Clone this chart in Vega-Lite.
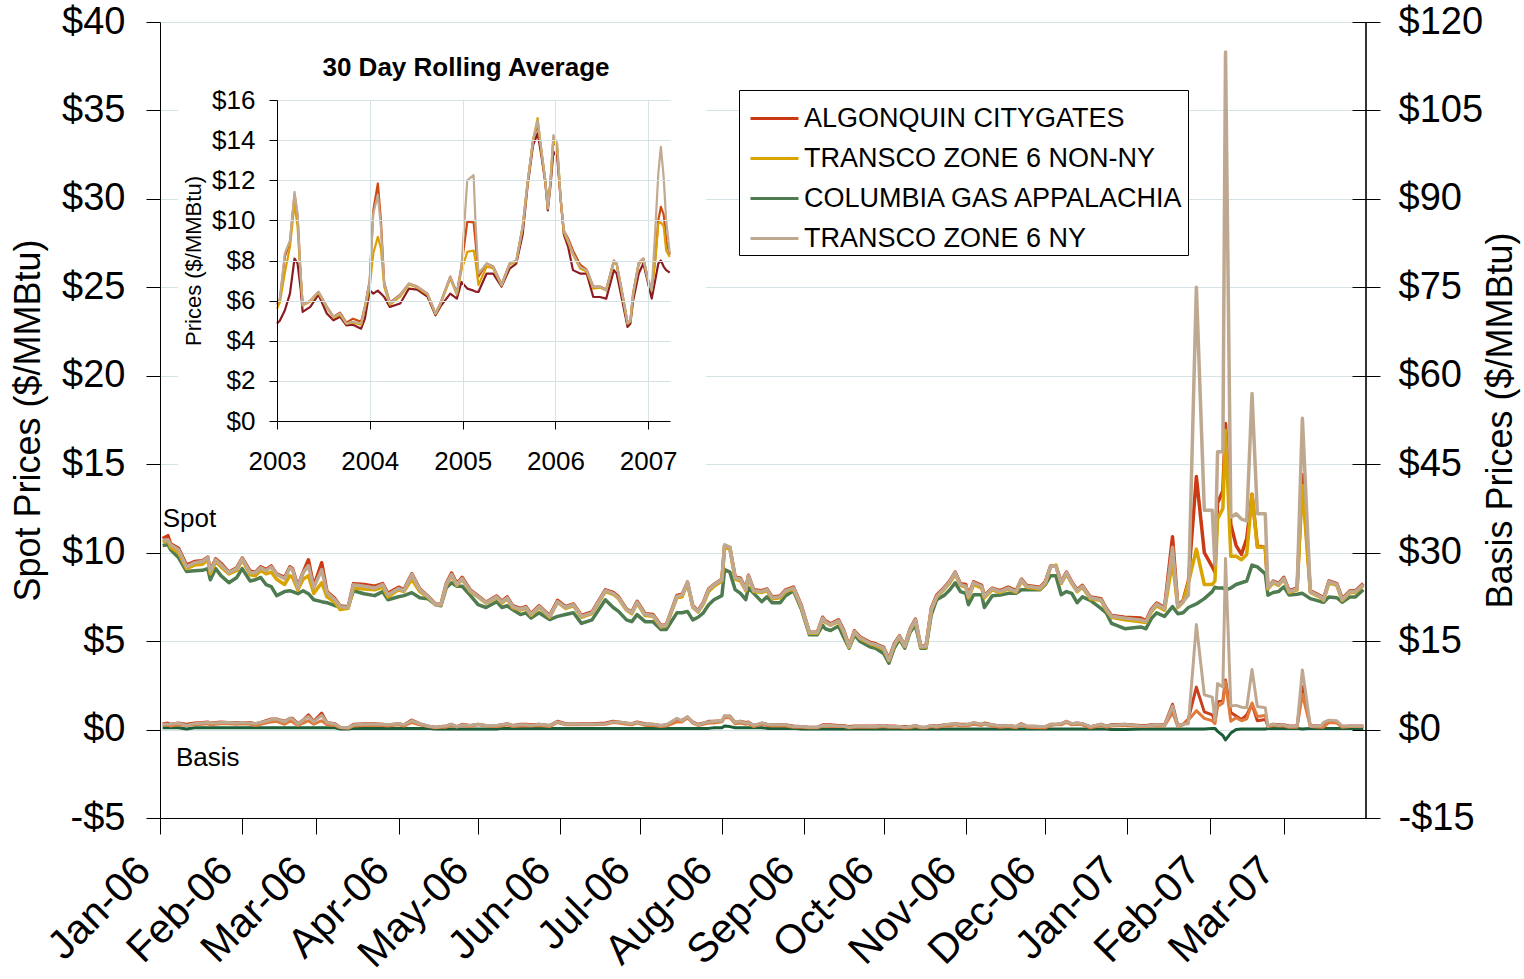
{
"$schema": "https://vega.github.io/schema/vega-lite/v6.json",
"width": 1206,
"height": 796,
"autosize": {"type": "none"},
"padding": {"left": 160, "top": 22, "right": 158, "bottom": 161},
"background": "white",
"config": {
  "view": {"stroke": null},
  "font": "Liberation Sans",
  "axis": {"labelFont": "Liberation Sans", "titleFont": "Liberation Sans", "labelColor": "black", "titleColor": "black", "domainColor": "black", "tickColor": "black", "titleFontWeight": "normal", "labelFlush": false, "labelOverlap": false}
},
"datasets": {
"main": [
{"d":"2006-01-02","a":10.8,"t":10.6,"c":10.4,"n":10.7,"ab":1.0,"tb":0.7,"cb":0.3,"nb":0.9},
{"d":"2006-01-04","a":10.96,"t":10.7,"c":10.45,"n":10.73,"ab":1.1,"tb":0.8,"cb":0.3,"nb":0.9},
{"d":"2006-01-05","a":10.5,"t":10.3,"c":10.17,"n":10.45,"ab":0.9,"tb":0.6,"cb":0.3,"nb":0.9},
{"d":"2006-01-08","a":10.25,"t":10.0,"c":9.72,"n":10.17,"ab":1.1,"tb":0.8,"cb":0.3,"nb":1.1},
{"d":"2006-01-11","a":9.3,"t":9.1,"c":8.94,"n":9.2,"ab":0.9,"tb":0.7,"cb":0.1,"nb":0.7},
{"d":"2006-01-14","a":9.5,"t":9.3,"c":8.98,"n":9.43,"ab":1.1,"tb":0.8,"cb":0.3,"nb":1.0},
{"d":"2006-01-17","a":9.55,"t":9.35,"c":9.0,"n":9.5,"ab":1.2,"tb":0.9,"cb":0.3,"nb":1.1},
{"d":"2006-01-19","a":9.75,"t":9.6,"c":9.1,"n":9.72,"ab":1.3,"tb":1.0,"cb":0.3,"nb":1.2},
{"d":"2006-01-20","a":9.0,"t":8.8,"c":8.47,"n":8.94,"ab":1.1,"tb":0.8,"cb":0.3,"nb":1.1},
{"d":"2006-01-22","a":9.65,"t":9.5,"c":9.1,"n":9.6,"ab":1.2,"tb":0.9,"cb":0.3,"nb":1.1},
{"d":"2006-01-24","a":9.4,"t":9.2,"c":8.7,"n":9.32,"ab":1.3,"tb":1.0,"cb":0.3,"nb":1.2},
{"d":"2006-01-27","a":8.9,"t":8.8,"c":8.3,"n":8.87,"ab":1.2,"tb":1.0,"cb":0.3,"nb":1.2},
{"d":"2006-01-30","a":9.15,"t":9.0,"c":8.6,"n":9.1,"ab":1.2,"tb":0.9,"cb":0.3,"nb":1.1},
{"d":"2006-02-01","a":9.7,"t":9.6,"c":9.1,"n":9.66,"ab":1.2,"tb":1.0,"cb":0.3,"nb":1.2},
{"d":"2006-02-04","a":8.95,"t":8.75,"c":8.4,"n":8.87,"ab":1.2,"tb":0.9,"cb":0.3,"nb":1.1},
{"d":"2006-02-06","a":8.9,"t":8.7,"c":8.47,"n":8.87,"ab":1.0,"tb":0.7,"cb":0.3,"nb":1.0},
{"d":"2006-02-08","a":9.2,"t":9.0,"c":8.6,"n":9.15,"ab":1.2,"tb":0.9,"cb":0.3,"nb":1.2},
{"d":"2006-02-10","a":9.05,"t":8.8,"c":8.2,"n":8.98,"ab":1.5,"tb":1.1,"cb":0.3,"nb":1.4},
{"d":"2006-02-12","a":9.25,"t":8.9,"c":8.08,"n":9.2,"ab":1.8,"tb":1.3,"cb":0.3,"nb":1.7},
{"d":"2006-02-14","a":8.8,"t":8.5,"c":7.57,"n":8.76,"ab":1.8,"tb":1.4,"cb":0.3,"nb":1.8},
{"d":"2006-02-17","a":8.6,"t":8.2,"c":7.8,"n":8.53,"ab":1.4,"tb":0.9,"cb":0.3,"nb":1.3},
{"d":"2006-02-19","a":9.2,"t":8.7,"c":7.85,"n":9.15,"ab":1.9,"tb":1.4,"cb":0.3,"nb":1.9},
{"d":"2006-02-20","a":9.1,"t":8.6,"c":7.8,"n":9.04,"ab":1.9,"tb":1.3,"cb":0.3,"nb":1.8},
{"d":"2006-02-22","a":8.1,"t":7.9,"c":7.68,"n":8.02,"ab":1.0,"tb":0.7,"cb":0.3,"nb":0.9},
{"d":"2006-02-24","a":8.9,"t":8.5,"c":7.85,"n":8.87,"ab":1.6,"tb":1.1,"cb":0.3,"nb":1.6},
{"d":"2006-02-26","a":9.6,"t":8.7,"c":7.68,"n":9.27,"ab":2.5,"tb":1.5,"cb":0.3,"nb":2.2},
{"d":"2006-02-28","a":8.1,"t":7.7,"c":7.34,"n":8.02,"ab":1.4,"tb":0.9,"cb":0.3,"nb":1.3},
{"d":"2006-03-03","a":9.43,"t":8.3,"c":7.23,"n":9.04,"ab":2.8,"tb":1.5,"cb":0.3,"nb":2.4},
{"d":"2006-03-05","a":7.8,"t":7.5,"c":7.17,"n":7.74,"ab":1.2,"tb":0.8,"cb":0.3,"nb":1.2},
{"d":"2006-03-08","a":7.4,"t":7.2,"c":7.0,"n":7.34,"ab":1.0,"tb":0.7,"cb":0.3,"nb":0.9},
{"d":"2006-03-10","a":6.98,"t":6.78,"c":6.95,"n":6.95,"ab":0.4,"tb":0.3,"cb":0.1,"nb":0.4},
{"d":"2006-03-13","a":6.92,"t":6.85,"c":6.95,"n":6.9,"ab":0.3,"tb":0.2,"cb":0.1,"nb":0.3},
{"d":"2006-03-15","a":8.25,"t":8.0,"c":7.85,"n":8.19,"ab":0.9,"tb":0.6,"cb":0.2,"nb":0.8},
{"d":"2006-03-19","a":8.2,"t":7.95,"c":7.68,"n":8.1,"ab":1.0,"tb":0.7,"cb":0.2,"nb":0.9},
{"d":"2006-03-23","a":8.1,"t":7.9,"c":7.57,"n":8.0,"ab":1.0,"tb":0.7,"cb":0.2,"nb":0.9},
{"d":"2006-03-26","a":8.25,"t":8.05,"c":7.8,"n":8.19,"ab":0.9,"tb":0.7,"cb":0.2,"nb":0.9},
{"d":"2006-03-28","a":7.7,"t":7.5,"c":7.34,"n":7.62,"ab":0.8,"tb":0.6,"cb":0.2,"nb":0.8},
{"d":"2006-04-01","a":8.05,"t":7.9,"c":7.51,"n":7.97,"ab":1.0,"tb":0.8,"cb":0.2,"nb":1.0},
{"d":"2006-04-03","a":7.9,"t":7.8,"c":7.57,"n":7.85,"ab":0.8,"tb":0.6,"cb":0.2,"nb":0.8},
{"d":"2006-04-06","a":8.8,"t":8.5,"c":7.74,"n":8.76,"ab":1.6,"tb":1.2,"cb":0.2,"nb":1.5},
{"d":"2006-04-09","a":7.95,"t":7.8,"c":7.45,"n":7.91,"ab":1.0,"tb":0.8,"cb":0.2,"nb":1.0},
{"d":"2006-04-12","a":7.55,"t":7.5,"c":7.4,"n":7.53,"ab":0.6,"tb":0.5,"cb":0.2,"nb":0.6},
{"d":"2006-04-15","a":7.08,"t":7.05,"c":7.06,"n":7.06,"ab":0.4,"tb":0.3,"cb":0.1,"nb":0.4},
{"d":"2006-04-17","a":7.08,"t":7.05,"c":7.0,"n":7.06,"ab":0.5,"tb":0.4,"cb":0.1,"nb":0.5},
{"d":"2006-04-19","a":8.25,"t":8.15,"c":8.02,"n":8.19,"ab":0.6,"tb":0.4,"cb":0.1,"nb":0.6},
{"d":"2006-04-21","a":8.85,"t":8.7,"c":8.3,"n":8.76,"ab":0.9,"tb":0.7,"cb":0.1,"nb":0.9},
{"d":"2006-04-23","a":8.25,"t":8.15,"c":8.1,"n":8.19,"ab":0.5,"tb":0.4,"cb":0.1,"nb":0.5},
{"d":"2006-04-25","a":8.6,"t":8.5,"c":8.1,"n":8.53,"ab":0.9,"tb":0.7,"cb":0.1,"nb":0.8},
{"d":"2006-04-28","a":7.9,"t":7.8,"c":7.6,"n":7.85,"ab":0.7,"tb":0.5,"cb":0.1,"nb":0.7},
{"d":"2006-05-01","a":7.55,"t":7.5,"c":7.06,"n":7.51,"ab":0.9,"tb":0.8,"cb":0.1,"nb":0.9},
{"d":"2006-05-04","a":7.2,"t":7.15,"c":6.9,"n":7.17,"ab":0.7,"tb":0.6,"cb":0.1,"nb":0.7},
{"d":"2006-05-08","a":7.55,"t":7.45,"c":7.23,"n":7.5,"ab":0.7,"tb":0.5,"cb":0.1,"nb":0.7},
{"d":"2006-05-10","a":7.25,"t":7.15,"c":6.9,"n":7.2,"ab":0.8,"tb":0.6,"cb":0.2,"nb":0.8},
{"d":"2006-05-12","a":7.5,"t":7.4,"c":7.0,"n":7.45,"ab":1.0,"tb":0.8,"cb":0.2,"nb":1.0},
{"d":"2006-05-14","a":7.0,"t":6.9,"c":6.78,"n":6.95,"ab":0.7,"tb":0.5,"cb":0.2,"nb":0.7},
{"d":"2006-05-17","a":6.85,"t":6.75,"c":6.5,"n":6.8,"ab":0.9,"tb":0.6,"cb":0.2,"nb":0.8},
{"d":"2006-05-19","a":6.95,"t":6.85,"c":6.6,"n":6.9,"ab":0.9,"tb":0.6,"cb":0.2,"nb":0.8},
{"d":"2006-05-21","a":6.55,"t":6.45,"c":6.3,"n":6.5,"ab":0.8,"tb":0.6,"cb":0.2,"nb":0.7},
{"d":"2006-05-24","a":7.0,"t":6.9,"c":6.6,"n":6.95,"ab":0.9,"tb":0.7,"cb":0.2,"nb":0.9},
{"d":"2006-05-28","a":6.45,"t":6.35,"c":6.22,"n":6.4,"ab":0.7,"tb":0.5,"cb":0.2,"nb":0.7},
{"d":"2006-05-31","a":7.3,"t":7.2,"c":6.4,"n":7.23,"ab":1.4,"tb":1.2,"cb":0.2,"nb":1.3},
{"d":"2006-06-03","a":6.95,"t":6.85,"c":6.5,"n":6.9,"ab":1.0,"tb":0.8,"cb":0.2,"nb":0.9},
{"d":"2006-06-06","a":7.1,"t":7.0,"c":6.6,"n":7.06,"ab":1.0,"tb":0.8,"cb":0.2,"nb":1.0},
{"d":"2006-06-09","a":6.45,"t":6.35,"c":6.0,"n":6.4,"ab":1.0,"tb":0.8,"cb":0.2,"nb":0.9},
{"d":"2006-06-13","a":6.65,"t":6.55,"c":6.2,"n":6.6,"ab":1.0,"tb":0.8,"cb":0.2,"nb":0.9},
{"d":"2006-06-18","a":7.9,"t":7.8,"c":7.34,"n":7.85,"ab":1.1,"tb":0.9,"cb":0.2,"nb":1.0},
{"d":"2006-06-21","a":7.75,"t":7.65,"c":6.9,"n":7.7,"ab":1.4,"tb":1.2,"cb":0.2,"nb":1.3},
{"d":"2006-06-23","a":7.5,"t":7.4,"c":6.68,"n":7.45,"ab":1.3,"tb":1.1,"cb":0.2,"nb":1.3},
{"d":"2006-06-26","a":6.82,"t":6.75,"c":6.2,"n":6.78,"ab":1.1,"tb":0.9,"cb":0.2,"nb":1.1},
{"d":"2006-06-28","a":6.65,"t":6.55,"c":6.1,"n":6.6,"ab":1.0,"tb":0.8,"cb":0.2,"nb":1.0},
{"d":"2006-06-30","a":7.25,"t":7.15,"c":6.5,"n":7.2,"ab":1.3,"tb":1.1,"cb":0.2,"nb":1.2},
{"d":"2006-07-03","a":6.55,"t":6.45,"c":6.1,"n":6.5,"ab":1.0,"tb":0.7,"cb":0.2,"nb":0.9},
{"d":"2006-07-06","a":6.5,"t":6.4,"c":6.1,"n":6.45,"ab":0.9,"tb":0.7,"cb":0.2,"nb":0.9},
{"d":"2006-07-09","a":5.88,"t":5.8,"c":5.65,"n":5.84,"ab":0.7,"tb":0.5,"cb":0.2,"nb":0.7},
{"d":"2006-07-11","a":5.92,"t":5.88,"c":5.65,"n":5.9,"ab":0.8,"tb":0.6,"cb":0.2,"nb":0.8},
{"d":"2006-07-15","a":7.58,"t":7.45,"c":6.6,"n":7.52,"ab":1.5,"tb":1.3,"cb":0.2,"nb":1.9},
{"d":"2006-07-17","a":7.65,"t":7.5,"c":6.6,"n":7.6,"ab":1.6,"tb":1.3,"cb":0.2,"nb":1.5},
{"d":"2006-07-19","a":8.3,"t":8.3,"c":6.68,"n":8.36,"ab":2.1,"tb":2.0,"cb":0.2,"nb":2.2},
{"d":"2006-07-21","a":7.0,"t":6.9,"c":6.2,"n":6.95,"ab":1.3,"tb":1.1,"cb":0.2,"nb":1.2},
{"d":"2006-07-23","a":6.72,"t":6.65,"c":6.35,"n":6.68,"ab":0.9,"tb":0.7,"cb":0.2,"nb":0.8},
{"d":"2006-07-25","a":7.2,"t":7.1,"c":6.6,"n":7.17,"ab":1.1,"tb":0.9,"cb":0.2,"nb":1.1},
{"d":"2006-07-27","a":7.95,"t":7.8,"c":7.06,"n":7.91,"ab":1.4,"tb":1.1,"cb":0.2,"nb":1.3},
{"d":"2006-07-29","a":8.2,"t":8.1,"c":7.34,"n":8.19,"ab":1.4,"tb":1.1,"cb":0.3,"nb":1.4},
{"d":"2006-08-01","a":8.5,"t":8.4,"c":7.57,"n":8.47,"ab":1.5,"tb":1.3,"cb":0.3,"nb":1.5},
{"d":"2006-08-02","a":10.4,"t":10.3,"c":9.04,"n":10.45,"ab":2.2,"tb":2.0,"cb":0.6,"nb":2.4},
{"d":"2006-08-04","a":10.3,"t":10.2,"c":8.9,"n":10.3,"ab":2.3,"tb":2.0,"cb":0.5,"nb":2.2},
{"d":"2006-08-06","a":8.62,"t":8.5,"c":7.91,"n":8.58,"ab":1.2,"tb":1.0,"cb":0.3,"nb":1.2},
{"d":"2006-08-08","a":8.55,"t":8.4,"c":7.7,"n":8.5,"ab":1.4,"tb":1.1,"cb":0.3,"nb":1.4},
{"d":"2006-08-10","a":7.95,"t":7.85,"c":7.34,"n":7.91,"ab":1.2,"tb":0.9,"cb":0.3,"nb":1.1},
{"d":"2006-08-11","a":8.72,"t":8.6,"c":8.02,"n":8.7,"ab":1.3,"tb":1.0,"cb":0.3,"nb":1.2},
{"d":"2006-08-13","a":7.9,"t":7.8,"c":7.7,"n":7.85,"ab":0.7,"tb":0.5,"cb":0.3,"nb":0.7},
{"d":"2006-08-16","a":7.85,"t":7.75,"c":7.23,"n":7.8,"ab":1.1,"tb":0.9,"cb":0.3,"nb":1.1},
{"d":"2006-08-18","a":7.95,"t":7.85,"c":7.5,"n":7.91,"ab":0.9,"tb":0.7,"cb":0.2,"nb":0.9},
{"d":"2006-08-20","a":7.5,"t":7.4,"c":7.17,"n":7.45,"ab":0.8,"tb":0.6,"cb":0.2,"nb":0.8},
{"d":"2006-08-23","a":7.55,"t":7.45,"c":7.17,"n":7.51,"ab":0.8,"tb":0.6,"cb":0.2,"nb":0.8},
{"d":"2006-08-25","a":7.9,"t":7.8,"c":7.57,"n":7.85,"ab":0.8,"tb":0.6,"cb":0.2,"nb":0.8},
{"d":"2006-08-28","a":8.05,"t":7.95,"c":7.85,"n":8.0,"ab":0.6,"tb":0.4,"cb":0.2,"nb":0.5},
{"d":"2006-08-31","a":7.0,"t":6.9,"c":6.8,"n":6.95,"ab":0.5,"tb":0.4,"cb":0.1,"nb":0.5},
{"d":"2006-09-03","a":5.5,"t":5.45,"c":5.36,"n":5.48,"ab":0.4,"tb":0.3,"cb":0.1,"nb":0.4},
{"d":"2006-09-06","a":5.5,"t":5.45,"c":5.36,"n":5.48,"ab":0.4,"tb":0.3,"cb":0.1,"nb":0.4},
{"d":"2006-09-08","a":6.35,"t":6.25,"c":5.9,"n":6.3,"ab":0.8,"tb":0.6,"cb":0.1,"nb":0.7},
{"d":"2006-09-09","a":6.15,"t":6.05,"c":5.7,"n":6.1,"ab":0.8,"tb":0.6,"cb":0.1,"nb":0.7},
{"d":"2006-09-11","a":5.98,"t":5.9,"c":5.6,"n":5.93,"ab":0.8,"tb":0.5,"cb":0.1,"nb":0.7},
{"d":"2006-09-14","a":6.2,"t":6.1,"c":5.85,"n":6.15,"ab":0.7,"tb":0.5,"cb":0.1,"nb":0.6},
{"d":"2006-09-16","a":5.6,"t":5.5,"c":5.2,"n":5.53,"ab":0.7,"tb":0.5,"cb":0.1,"nb":0.6},
{"d":"2006-09-18","a":4.72,"t":4.65,"c":4.6,"n":4.69,"ab":0.5,"tb":0.3,"cb":0.1,"nb":0.4},
{"d":"2006-09-20","a":5.58,"t":5.5,"c":5.36,"n":5.53,"ab":0.6,"tb":0.4,"cb":0.1,"nb":0.5},
{"d":"2006-09-22","a":5.25,"t":5.15,"c":5.0,"n":5.2,"ab":0.6,"tb":0.4,"cb":0.1,"nb":0.6},
{"d":"2006-09-26","a":4.92,"t":4.85,"c":4.67,"n":4.87,"ab":0.6,"tb":0.4,"cb":0.1,"nb":0.5},
{"d":"2006-09-28","a":4.85,"t":4.75,"c":4.6,"n":4.8,"ab":0.6,"tb":0.4,"cb":0.1,"nb":0.5},
{"d":"2006-10-01","a":4.65,"t":4.55,"c":4.3,"n":4.6,"ab":0.7,"tb":0.5,"cb":0.1,"nb":0.7},
{"d":"2006-10-03","a":3.98,"t":3.9,"c":3.75,"n":3.92,"ab":0.6,"tb":0.4,"cb":0.1,"nb":0.5},
{"d":"2006-10-05","a":4.85,"t":4.75,"c":4.6,"n":4.8,"ab":0.6,"tb":0.4,"cb":0.1,"nb":0.5},
{"d":"2006-10-07","a":5.3,"t":5.25,"c":5.1,"n":5.27,"ab":0.5,"tb":0.4,"cb":0.1,"nb":0.5},
{"d":"2006-10-09","a":4.75,"t":4.7,"c":4.6,"n":4.7,"ab":0.5,"tb":0.3,"cb":0.1,"nb":0.4},
{"d":"2006-10-11","a":5.7,"t":5.6,"c":5.5,"n":5.65,"ab":0.5,"tb":0.3,"cb":0.1,"nb":0.5},
{"d":"2006-10-13","a":6.25,"t":6.15,"c":5.9,"n":6.2,"ab":0.7,"tb":0.5,"cb":0.1,"nb":0.7},
{"d":"2006-10-15","a":4.72,"t":4.67,"c":4.6,"n":4.69,"ab":0.4,"tb":0.3,"cb":0.1,"nb":0.4},
{"d":"2006-10-17","a":4.72,"t":4.67,"c":4.6,"n":4.69,"ab":0.4,"tb":0.3,"cb":0.1,"nb":0.4},
{"d":"2006-10-19","a":6.85,"t":6.75,"c":6.5,"n":6.78,"ab":0.7,"tb":0.5,"cb":0.1,"nb":0.7},
{"d":"2006-10-21","a":7.6,"t":7.5,"c":7.34,"n":7.52,"ab":0.6,"tb":0.4,"cb":0.1,"nb":0.5},
{"d":"2006-10-24","a":8.05,"t":7.95,"c":7.6,"n":8.0,"ab":0.8,"tb":0.6,"cb":0.1,"nb":0.8},
{"d":"2006-10-26","a":8.4,"t":8.3,"c":7.9,"n":8.36,"ab":0.9,"tb":0.6,"cb":0.1,"nb":0.9},
{"d":"2006-10-28","a":8.9,"t":8.8,"c":8.3,"n":8.87,"ab":1.0,"tb":0.8,"cb":0.1,"nb":1.0},
{"d":"2006-10-30","a":8.25,"t":8.15,"c":7.8,"n":8.19,"ab":0.9,"tb":0.6,"cb":0.1,"nb":0.8},
{"d":"2006-11-01","a":8.2,"t":8.05,"c":7.7,"n":8.1,"ab":0.9,"tb":0.6,"cb":0.1,"nb":0.8},
{"d":"2006-11-02","a":7.6,"t":7.45,"c":7.06,"n":7.52,"ab":0.9,"tb":0.7,"cb":0.1,"nb":0.9},
{"d":"2006-11-04","a":8.35,"t":8.2,"c":7.62,"n":8.3,"ab":1.1,"tb":0.9,"cb":0.1,"nb":1.2},
{"d":"2006-11-07","a":8.15,"t":8.0,"c":7.62,"n":8.1,"ab":0.9,"tb":0.7,"cb":0.1,"nb":0.9},
{"d":"2006-11-08","a":7.58,"t":7.45,"c":6.9,"n":7.52,"ab":1.1,"tb":0.9,"cb":0.1,"nb":1.0},
{"d":"2006-11-11","a":8.0,"t":7.9,"c":7.57,"n":7.97,"ab":0.8,"tb":0.6,"cb":0.1,"nb":0.8},
{"d":"2006-11-14","a":7.85,"t":7.75,"c":7.6,"n":7.8,"ab":0.6,"tb":0.4,"cb":0.1,"nb":0.6},
{"d":"2006-11-17","a":8.05,"t":7.95,"c":7.7,"n":8.0,"ab":0.7,"tb":0.5,"cb":0.1,"nb":0.7},
{"d":"2006-11-20","a":7.85,"t":7.75,"c":7.7,"n":7.8,"ab":0.5,"tb":0.3,"cb":0.1,"nb":0.5},
{"d":"2006-11-22","a":8.5,"t":8.4,"c":7.9,"n":8.47,"ab":1.0,"tb":0.8,"cb":0.1,"nb":0.9},
{"d":"2006-11-24","a":8.15,"t":8.05,"c":7.9,"n":8.1,"ab":0.6,"tb":0.4,"cb":0.1,"nb":0.6},
{"d":"2006-11-29","a":8.05,"t":7.95,"c":7.9,"n":8.0,"ab":0.5,"tb":0.3,"cb":0.1,"nb":0.5},
{"d":"2006-12-01","a":8.35,"t":8.25,"c":8.2,"n":8.3,"ab":0.5,"tb":0.3,"cb":0.1,"nb":0.5},
{"d":"2006-12-03","a":9.25,"t":9.2,"c":8.7,"n":9.23,"ab":0.9,"tb":0.7,"cb":0.1,"nb":0.9},
{"d":"2006-12-05","a":9.25,"t":9.3,"c":8.7,"n":9.23,"ab":0.9,"tb":0.8,"cb":0.1,"nb":0.9},
{"d":"2006-12-07","a":8.35,"t":8.25,"c":7.62,"n":8.3,"ab":1.0,"tb":0.8,"cb":0.1,"nb":1.0},
{"d":"2006-12-09","a":8.9,"t":8.8,"c":7.8,"n":8.87,"ab":1.4,"tb":1.2,"cb":0.1,"nb":1.4},
{"d":"2006-12-11","a":8.35,"t":8.25,"c":7.7,"n":8.3,"ab":1.0,"tb":0.8,"cb":0.1,"nb":1.0},
{"d":"2006-12-13","a":7.9,"t":7.8,"c":7.17,"n":7.85,"ab":1.1,"tb":0.9,"cb":0.1,"nb":1.1},
{"d":"2006-12-15","a":8.15,"t":8.05,"c":7.5,"n":8.1,"ab":1.0,"tb":0.8,"cb":0.1,"nb":1.0},
{"d":"2006-12-18","a":7.5,"t":7.4,"c":7.3,"n":7.45,"ab":0.5,"tb":0.3,"cb":0.1,"nb":0.5},
{"d":"2006-12-22","a":7.4,"t":7.3,"c":6.85,"n":7.34,"ab":0.9,"tb":0.7,"cb":0.1,"nb":0.9},
{"d":"2006-12-24","a":6.85,"t":6.75,"c":6.6,"n":6.8,"ab":0.6,"tb":0.4,"cb":0.1,"nb":0.6},
{"d":"2006-12-26","a":6.45,"t":6.35,"c":6.0,"n":6.4,"ab":0.8,"tb":0.6,"cb":0.0,"nb":0.7},
{"d":"2006-12-31","a":6.35,"t":6.2,"c":5.7,"n":6.3,"ab":0.9,"tb":0.7,"cb":0.0,"nb":0.9},
{"d":"2007-01-06","a":6.3,"t":6.1,"c":5.8,"n":6.2,"ab":0.7,"tb":0.5,"cb":0.1,"nb":0.6},
{"d":"2007-01-08","a":6.15,"t":6.05,"c":5.7,"n":6.1,"ab":0.7,"tb":0.5,"cb":0.1,"nb":0.6},
{"d":"2007-01-10","a":6.8,"t":6.65,"c":6.27,"n":6.72,"ab":0.8,"tb":0.6,"cb":0.1,"nb":0.7},
{"d":"2007-01-12","a":7.15,"t":7.0,"c":6.6,"n":7.1,"ab":0.8,"tb":0.6,"cb":0.1,"nb":0.8},
{"d":"2007-01-15","a":6.9,"t":6.75,"c":6.4,"n":6.83,"ab":0.8,"tb":0.6,"cb":0.1,"nb":0.7},
{"d":"2007-01-18","a":10.9,"t":9.5,"c":6.95,"n":10.3,"ab":4.3,"tb":2.9,"cb":0.1,"nb":4.0},
{"d":"2007-01-20","a":7.0,"t":6.9,"c":6.55,"n":6.95,"ab":0.7,"tb":0.5,"cb":0.1,"nb":0.6},
{"d":"2007-01-22","a":7.3,"t":7.2,"c":6.6,"n":7.23,"ab":0.9,"tb":0.8,"cb":0.1,"nb":0.9},
{"d":"2007-01-24","a":8.4,"t":8.3,"c":6.9,"n":7.6,"ab":1.8,"tb":1.6,"cb":0.1,"nb":1.0},
{"d":"2007-01-27","a":14.3,"t":10.2,"c":7.1,"n":25.0,"ab":7.2,"tb":3.2,"cb":0.1,"nb":17.8},
{"d":"2007-01-30","a":10.0,"t":8.2,"c":7.4,"n":12.4,"ab":3.0,"tb":1.9,"cb":0.1,"nb":5.9},
{"d":"2007-02-02","a":9.2,"t":8.2,"c":7.8,"n":12.4,"ab":2.5,"tb":1.5,"cb":0.2,"nb":5.5},
{"d":"2007-02-03","a":8.9,"t":8.4,"c":8.05,"n":9.3,"ab":1.4,"tb":1.0,"cb":0.2,"nb":1.6},
{"d":"2007-02-04","a":12.8,"t":11.9,"c":8.0,"n":15.7,"ab":4.7,"tb":3.9,"cb":-0.3,"nb":7.8},
{"d":"2007-02-06","a":13.5,"t":12.5,"c":8.0,"n":15.7,"ab":5.0,"tb":4.5,"cb":-1.0,"nb":7.2},
{"d":"2007-02-07","a":17.3,"t":16.9,"c":7.9,"n":38.3,"ab":8.4,"tb":8.1,"cb":-1.75,"nb":29.0},
{"d":"2007-02-09","a":11.6,"t":9.8,"c":8.0,"n":12.0,"ab":2.9,"tb":1.4,"cb":-0.6,"nb":4.0},
{"d":"2007-02-11","a":10.4,"t":9.8,"c":8.2,"n":12.2,"ab":2.3,"tb":2.0,"cb":0.0,"nb":4.1},
{"d":"2007-02-13","a":9.9,"t":9.6,"c":8.3,"n":11.9,"ab":1.7,"tb":1.5,"cb":0.1,"nb":3.8},
{"d":"2007-02-15","a":10.8,"t":9.9,"c":8.4,"n":11.8,"ab":2.5,"tb":1.8,"cb":0.1,"nb":3.7},
{"d":"2007-02-17","a":13.3,"t":13.3,"c":9.3,"n":19.0,"ab":4.3,"tb":4.5,"cb":0.1,"nb":10.2},
{"d":"2007-02-19","a":10.4,"t":10.3,"c":9.2,"n":12.2,"ab":1.5,"tb":2.2,"cb":0.1,"nb":3.9},
{"d":"2007-02-22","a":10.3,"t":10.3,"c":8.8,"n":12.2,"ab":1.7,"tb":2.4,"cb":0.1,"nb":3.7},
{"d":"2007-02-23","a":8.0,"t":7.95,"c":7.6,"n":8.0,"ab":0.6,"tb":0.5,"cb":0.2,"nb":0.6},
{"d":"2007-02-25","a":8.4,"t":8.3,"c":7.75,"n":8.36,"ab":0.9,"tb":0.7,"cb":0.2,"nb":0.9},
{"d":"2007-02-27","a":8.25,"t":8.15,"c":7.8,"n":8.2,"ab":0.8,"tb":0.6,"cb":0.2,"nb":0.7},
{"d":"2007-03-01","a":8.6,"t":8.5,"c":8.07,"n":8.55,"ab":0.8,"tb":0.6,"cb":0.2,"nb":0.8},
{"d":"2007-03-03","a":7.85,"t":7.75,"c":7.6,"n":7.8,"ab":0.6,"tb":0.4,"cb":0.2,"nb":0.5},
{"d":"2007-03-06","a":8.0,"t":7.9,"c":7.65,"n":7.95,"ab":0.6,"tb":0.4,"cb":0.2,"nb":0.6},
{"d":"2007-03-08","a":14.4,"t":13.8,"c":7.7,"n":17.6,"ab":7.3,"tb":6.0,"cb":0.1,"nb":10.1},
{"d":"2007-03-11","a":7.85,"t":7.75,"c":7.4,"n":7.8,"ab":0.7,"tb":0.5,"cb":0.2,"nb":0.6},
{"d":"2007-03-15","a":7.55,"t":7.45,"c":7.23,"n":7.5,"ab":0.6,"tb":0.4,"cb":0.2,"nb":0.6},
{"d":"2007-03-16","a":7.4,"t":7.3,"c":7.2,"n":7.34,"ab":0.5,"tb":0.4,"cb":0.2,"nb":1.2},
{"d":"2007-03-18","a":8.4,"t":8.3,"c":7.5,"n":8.36,"ab":1.4,"tb":1.2,"cb":0.2,"nb":1.6},
{"d":"2007-03-21","a":8.25,"t":8.15,"c":7.45,"n":8.2,"ab":1.3,"tb":1.1,"cb":0.2,"nb":1.5},
{"d":"2007-03-23","a":7.4,"t":7.3,"c":7.2,"n":7.34,"ab":0.5,"tb":0.4,"cb":0.2,"nb":0.6},
{"d":"2007-03-26","a":7.85,"t":7.75,"c":7.5,"n":7.8,"ab":0.6,"tb":0.5,"cb":0.2,"nb":0.6},
{"d":"2007-03-28","a":7.85,"t":7.75,"c":7.5,"n":7.8,"ab":0.6,"tb":0.5,"cb":0.2,"nb":0.6},
{"d":"2007-03-31","a":8.25,"t":8.15,"c":7.9,"n":8.2,"ab":0.6,"tb":0.5,"cb":0.2,"nb":0.6}
],
"inset": [
{"d":"2003-01-01","a":5.8,"t":5.6,"c":4.86,"n":5.9},
{"d":"2003-01-12","a":6.0,"t":5.9,"c":5.0,"n":6.1},
{"d":"2003-02-01","a":8.2,"t":7.4,"c":5.52,"n":8.35},
{"d":"2003-02-21","a":8.9,"t":8.68,"c":6.35,"n":9.0},
{"d":"2003-03-11","a":11.3,"t":10.84,"c":8.1,"n":11.42},
{"d":"2003-03-23","a":10.2,"t":9.68,"c":7.85,"n":10.34},
{"d":"2003-04-04","a":7.3,"t":7.2,"c":6.6,"n":7.36},
{"d":"2003-04-12","a":5.8,"t":5.75,"c":5.44,"n":5.77},
{"d":"2003-05-12","a":6.0,"t":5.95,"c":5.69,"n":6.0},
{"d":"2003-06-13","a":6.44,"t":6.4,"c":6.3,"n":6.44},
{"d":"2003-07-16","a":5.7,"t":5.65,"c":5.36,"n":5.69},
{"d":"2003-08-11","a":5.2,"t":5.15,"c":5.02,"n":5.19},
{"d":"2003-09-06","a":5.4,"t":5.3,"c":5.2,"n":5.36},
{"d":"2003-10-01","a":4.9,"t":4.85,"c":4.77,"n":4.86},
{"d":"2003-10-27","a":5.1,"t":4.9,"c":4.8,"n":4.94},
{"d":"2003-11-28","a":4.95,"t":4.8,"c":4.6,"n":4.86},
{"d":"2003-12-13","a":5.7,"t":5.6,"c":5.1,"n":5.69},
{"d":"2004-01-01","a":7.0,"t":6.69,"c":6.52,"n":7.0},
{"d":"2004-01-15","a":10.5,"t":8.35,"c":6.35,"n":10.34},
{"d":"2004-02-02","a":11.84,"t":9.18,"c":6.5,"n":11.26},
{"d":"2004-02-14","a":10.0,"t":8.6,"c":6.35,"n":9.68},
{"d":"2004-02-27","a":6.9,"t":6.7,"c":6.18,"n":6.85},
{"d":"2004-03-20","a":5.9,"t":5.8,"c":5.69,"n":5.86},
{"d":"2004-04-30","a":6.3,"t":6.2,"c":5.86,"n":6.27},
{"d":"2004-06-03","a":6.85,"t":6.8,"c":6.6,"n":6.85},
{"d":"2004-07-06","a":6.7,"t":6.65,"c":6.55,"n":6.69},
{"d":"2004-08-15","a":6.35,"t":6.3,"c":6.2,"n":6.35},
{"d":"2004-09-16","a":5.36,"t":5.33,"c":5.27,"n":5.36},
{"d":"2004-10-05","a":5.86,"t":5.8,"c":5.7,"n":5.86},
{"d":"2004-11-13","a":7.2,"t":7.1,"c":6.35,"n":7.18},
{"d":"2004-12-09","a":6.4,"t":6.3,"c":6.1,"n":6.35},
{"d":"2004-12-27","a":7.7,"t":7.5,"c":6.93,"n":7.68},
{"d":"2005-01-19","a":9.93,"t":8.43,"c":6.6,"n":12.0},
{"d":"2005-02-13","a":9.9,"t":8.5,"c":6.5,"n":12.25},
{"d":"2005-02-20","a":9.0,"t":8.0,"c":6.45,"n":10.0},
{"d":"2005-03-04","a":7.2,"t":6.77,"c":6.43,"n":7.35},
{"d":"2005-04-05","a":7.85,"t":7.7,"c":7.35,"n":7.85},
{"d":"2005-05-01","a":7.7,"t":7.6,"c":7.35,"n":7.68},
{"d":"2005-06-03","a":6.8,"t":6.75,"c":6.7,"n":6.77},
{"d":"2005-07-05","a":7.85,"t":7.8,"c":7.6,"n":7.85},
{"d":"2005-07-31","a":8.0,"t":7.95,"c":7.85,"n":8.0},
{"d":"2005-08-25","a":9.7,"t":9.6,"c":9.3,"n":9.68},
{"d":"2005-09-13","a":11.84,"t":11.8,"c":11.67,"n":11.84},
{"d":"2005-10-05","a":14.0,"t":14.0,"c":13.75,"n":14.0},
{"d":"2005-10-23","a":14.8,"t":15.1,"c":14.34,"n":15.0},
{"d":"2005-11-07","a":13.4,"t":13.4,"c":13.2,"n":13.5},
{"d":"2005-11-22","a":12.0,"t":12.0,"c":11.9,"n":12.0},
{"d":"2005-12-02","a":10.6,"t":10.6,"c":10.5,"n":10.6},
{"d":"2005-12-13","a":12.0,"t":12.0,"c":11.8,"n":12.0},
{"d":"2005-12-24","a":14.1,"t":14.1,"c":13.42,"n":14.25},
{"d":"2006-01-08","a":13.5,"t":13.6,"c":13.17,"n":13.83},
{"d":"2006-01-22","a":11.0,"t":11.0,"c":11.0,"n":11.0},
{"d":"2006-02-03","a":9.5,"t":9.4,"c":9.3,"n":9.51},
{"d":"2006-02-20","a":9.1,"t":8.9,"c":8.68,"n":9.0},
{"d":"2006-03-11","a":8.5,"t":8.3,"c":7.52,"n":8.35},
{"d":"2006-04-08","a":7.8,"t":7.6,"c":7.35,"n":7.68},
{"d":"2006-05-04","a":7.55,"t":7.45,"c":7.35,"n":7.52},
{"d":"2006-05-30","a":6.7,"t":6.6,"c":6.18,"n":6.69},
{"d":"2006-06-25","a":6.7,"t":6.65,"c":6.18,"n":6.69},
{"d":"2006-07-20","a":6.55,"t":6.5,"c":6.1,"n":6.52},
{"d":"2006-08-19","a":8.0,"t":7.9,"c":7.52,"n":8.0},
{"d":"2006-08-30","a":7.85,"t":7.8,"c":7.35,"n":7.85},
{"d":"2006-09-21","a":6.4,"t":6.3,"c":6.0,"n":6.35},
{"d":"2006-10-12","a":4.9,"t":4.85,"c":4.69,"n":4.86},
{"d":"2006-10-23","a":5.0,"t":4.95,"c":4.86,"n":5.0},
{"d":"2006-11-03","a":6.4,"t":6.3,"c":6.0,"n":6.35},
{"d":"2006-11-25","a":7.9,"t":7.8,"c":7.35,"n":7.85},
{"d":"2006-12-13","a":8.1,"t":8.05,"c":7.85,"n":8.1},
{"d":"2007-01-01","a":7.05,"t":6.95,"c":6.85,"n":7.02},
{"d":"2007-01-15","a":6.55,"t":6.5,"c":6.1,"n":6.52},
{"d":"2007-01-29","a":8.1,"t":8.0,"c":7.02,"n":9.51},
{"d":"2007-02-10","a":10.0,"t":9.85,"c":7.85,"n":12.34},
{"d":"2007-02-20","a":10.67,"t":9.9,"c":8.0,"n":13.67},
{"d":"2007-03-03","a":10.3,"t":9.7,"c":7.7,"n":12.17},
{"d":"2007-03-13","a":9.0,"t":8.5,"c":7.52,"n":10.0},
{"d":"2007-03-27","a":8.3,"t":8.18,"c":7.4,"n":8.35}
]
},
"layer": [
{
  "layer": [
    {
      "data": {"name": "main"},
      "transform": [{"fold": ["c", "a", "t", "n"], "as": ["k", "v"]}],
      "mark": {"type": "line", "strokeWidth": 3.5, "strokeJoin": "round"},
      "encoding": {
        "x": {"field": "d", "type": "temporal",
          "scale": {"type": "utc", "domain": [{"year": 2006, "month": 1, "date": 1, "utc": true}, {"year": 2007, "month": 4, "date": 1, "utc": true}]},
          "axis": {"values": [
            {"year": 2006, "month": 1, "date": 1, "utc": true}, {"year": 2006, "month": 2, "date": 1, "utc": true}, {"year": 2006, "month": 3, "date": 1, "utc": true},
            {"year": 2006, "month": 4, "date": 1, "utc": true}, {"year": 2006, "month": 5, "date": 1, "utc": true}, {"year": 2006, "month": 6, "date": 1, "utc": true},
            {"year": 2006, "month": 7, "date": 1, "utc": true}, {"year": 2006, "month": 8, "date": 1, "utc": true}, {"year": 2006, "month": 9, "date": 1, "utc": true},
            {"year": 2006, "month": 10, "date": 1, "utc": true}, {"year": 2006, "month": 11, "date": 1, "utc": true}, {"year": 2006, "month": 12, "date": 1, "utc": true},
            {"year": 2007, "month": 1, "date": 1, "utc": true}, {"year": 2007, "month": 2, "date": 1, "utc": true}, {"year": 2007, "month": 3, "date": 1, "utc": true}],
            "format": "%b-%y", "labelAngle": -45, "labelAlign": "right", "labelBaseline": "middle", "labelFontSize": 41, "tickSize": 16, "labelPadding": 30, "labelOffset": -16, "title": null, "grid": false, "orient": "bottom"}},
        "y": {"field": "v", "type": "quantitative", "scale": {"domain": [-5, 40]},
          "axis": {"orient": "left", "values": [-5, 0, 5, 10, 15, 20, 25, 30, 35, 40], "labelExpr": "datum.value < 0 ? '-$' + abs(datum.value) : '$' + datum.value", "labelFontSize": 38, "tickSize": 14, "labelPadding": 21, "grid": true, "gridColor": "#D5E3E7", "title": "Spot Prices ($/MMBtu)", "titleFontSize": 36, "titleAngle": -90, "titleX": -132, "titleBaseline": "middle"}},
        "color": {"field": "k", "type": "nominal",
          "scale": {"domain": ["a", "t", "c", "n"], "range": ["#CC3A14", "#D9A400", "#4E7B4F", "#BFA890"]},
          "legend": {"orient": "none", "legendX": 579, "legendY": 68, "direction": "vertical", "title": null, "strokeColor": "black", "fillColor": "white", "padding": 3, "rowPadding": 1, "labelFontSize": 27, "labelFont": "Liberation Sans", "labelLimit": 600, "symbolType": "stroke", "symbolSize": 2304, "symbolStrokeWidth": 3, "symbolOffset": 7, "labelOffset": 4,
            "labelExpr": "datum.label == 'a' ? 'ALGONQUIN CITYGATES' : datum.label == 't' ? 'TRANSCO ZONE 6 NON-NY' : datum.label == 'c' ? 'COLUMBIA GAS APPALACHIA' : 'TRANSCO ZONE 6 NY'"}}
      }
    },
    {
      "data": {"values": [{"d": "2006-01-02", "v": 11.9, "label": "Spot"}, {"d": "2006-01-07", "v": -1.6, "label": "Basis"}]},
      "mark": {"type": "text", "align": "left", "baseline": "middle", "fontSize": 26, "font": "Liberation Sans", "color": "black"},
      "encoding": {
        "x": {"field": "d", "type": "temporal", "scale": {"type": "utc", "domain": [{"year": 2006, "month": 1, "date": 1, "utc": true}, {"year": 2007, "month": 4, "date": 1, "utc": true}]}},
        "y": {"field": "v", "type": "quantitative", "scale": {"domain": [-5, 40]}},
        "text": {"field": "label"}
      }
    }
  ]
},
{
  "layer": [
    {
      "data": {"name": "main"},
      "transform": [{"fold": ["cb", "ab", "tb", "nb"], "as": ["k", "v"]}],
      "mark": {"type": "line", "strokeWidth": 3, "strokeJoin": "round"},
      "encoding": {
        "x": {"field": "d", "type": "temporal", "scale": {"type": "utc", "domain": [{"year": 2006, "month": 1, "date": 1, "utc": true}, {"year": 2007, "month": 4, "date": 1, "utc": true}]}, "axis": null},
        "y": {"field": "v", "type": "quantitative", "scale": {"domain": [-15, 120]},
          "axis": {"orient": "right", "values": [-15, 0, 15, 30, 45, 60, 75, 90, 105, 120], "labelExpr": "datum.value < 0 ? '-$' + abs(datum.value) : '$' + datum.value", "labelFontSize": 38, "tickSize": 28, "offset": -14, "domain": false, "labelPadding": 18, "grid": false, "title": "Basis Prices ($/MMBtu)", "titleFontSize": 36, "titleAngle": -90, "titleX": 148, "titleBaseline": "middle"}},
        "color": {"field": "k", "type": "nominal", "scale": {"domain": ["ab", "tb", "cb", "nb"], "range": ["#C8401E", "#E07B3C", "#1B5E38", "#BFA890"]}, "legend": null}
      }
    },
    {
      "data": {"values": [{}]},
      "mark": {"type": "rule", "color": "black", "strokeWidth": 1.6},
      "encoding": {
        "x": {"datum": {"year": 2007, "month": 4, "date": 1, "utc": true}, "type": "temporal"}
      }
    }
  ]
},
{
  "layer": [
    {
      "data": {"values": [{"x1": "2001-12-07", "x2": "2007-08-16", "y1": -2.95, "y2": 18.75}]},
      "mark": {"type": "rect", "fill": "white"},
      "encoding": {
        "x": {"field": "x1", "type": "temporal",
          "scale": {"type": "utc", "domain": [{"year": 2003, "month": 1, "date": 1, "utc": true}, {"year": 2007, "month": 3, "date": 28, "utc": true}], "range": [117, 510]},
          "axis": {"orient": "top", "grid": true, "gridColor": "#D5E3E7", "ticks": false, "labels": false, "domain": false, "title": null, "zindex": 1,
            "values": [{"year": 2003, "month": 1, "date": 1, "utc": true}, {"year": 2004, "month": 1, "date": 1, "utc": true}, {"year": 2005, "month": 1, "date": 1, "utc": true}, {"year": 2006, "month": 1, "date": 1, "utc": true}, {"year": 2007, "month": 1, "date": 1, "utc": true}]}},
        "x2": {"field": "x2"},
        "y": {"field": "y1", "type": "quantitative", "scale": {"domain": [0, 16], "range": [399, 78]}},
        "y2": {"field": "y2"}
      }
    },
    {
      "data": {"name": "inset"},
      "transform": [{"fold": ["c", "a", "t", "n"], "as": ["k", "v"]}],
      "mark": {"type": "line", "strokeWidth": 2.2, "strokeJoin": "round"},
      "encoding": {
        "x": {"field": "d", "type": "temporal",
          "scale": {"type": "utc", "domain": [{"year": 2003, "month": 1, "date": 1, "utc": true}, {"year": 2007, "month": 3, "date": 28, "utc": true}], "range": [117, 510]},
          "axis": {"orient": "bottom", "offset": -397, "values": [{"year": 2003, "month": 1, "date": 1, "utc": true}, {"year": 2004, "month": 1, "date": 1, "utc": true}, {"year": 2005, "month": 1, "date": 1, "utc": true}, {"year": 2006, "month": 1, "date": 1, "utc": true}, {"year": 2007, "month": 1, "date": 1, "utc": true}],
            "format": "%Y", "labelFontSize": 26, "tickSize": 8, "labelPadding": 19, "labelAngle": 0, "labelAlign": "center", "labelBaseline": "top", "grid": false, "title": null, "zindex": 1}},
        "y": {"field": "v", "type": "quantitative", "scale": {"domain": [0, 16], "range": [399, 78]},
          "axis": {"orient": "left", "offset": -117, "values": [0, 2, 4, 6, 8, 10, 12, 14, 16], "labelExpr": "'$' + datum.value", "labelFontSize": 26, "tickSize": 8, "labelPadding": 14, "grid": true, "gridColor": "#D5E3E7", "title": "Prices ($/MMBtu)", "titleFontSize": 22, "titleAngle": -90, "titleX": -84, "titleBaseline": "middle", "zindex": 1}},
        "color": {"field": "k", "type": "nominal", "scale": {"domain": ["a", "t", "c", "n"], "range": ["#CF4A12", "#DCA000", "#8C1C24", "#C0AA90"]}, "legend": null}
      }
    },
    {
      "data": {"values": [{"d": "2005-01-14", "v": 17.6, "label": "30 Day Rolling Average"}]},
      "mark": {"type": "text", "fontSize": 26, "fontWeight": "bold", "align": "center", "baseline": "middle", "font": "Liberation Sans", "color": "black"},
      "encoding": {
        "x": {"field": "d", "type": "temporal", "scale": {"type": "utc", "domain": [{"year": 2003, "month": 1, "date": 1, "utc": true}, {"year": 2007, "month": 3, "date": 28, "utc": true}], "range": [117, 510]}, "axis": null},
        "y": {"field": "v", "type": "quantitative", "scale": {"domain": [0, 16], "range": [399, 78]}},
        "text": {"field": "label"}
      }
    }
  ],
  "resolve": {"axis": {"x": "independent"}}
}
],
"resolve": {
  "scale": {"x": "independent", "y": "independent", "color": "independent"},
  "axis": {"x": "independent", "y": "independent"},
  "legend": {"color": "independent"}
}
}
